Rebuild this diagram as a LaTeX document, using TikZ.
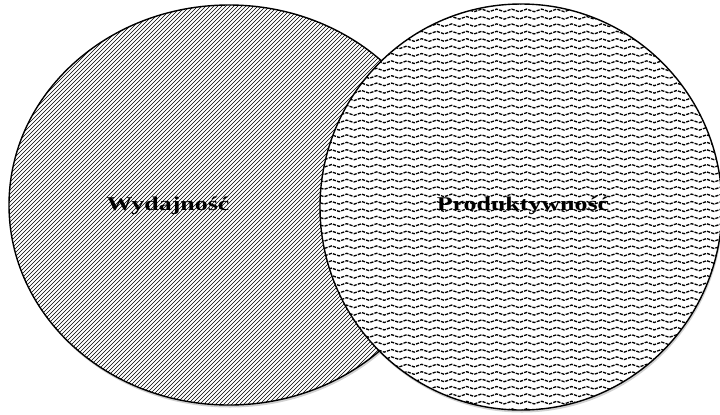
\documentclass[tikz,border=0pt]{standalone}
\usepackage{fontspec}
\usepackage{graphicx}
\newfontfamily\labelfont{Liberation Serif}
\usetikzlibrary{decorations.pathmorphing}
\tikzset{
  vennline/.style={draw=black, line width=1.4bp},
  whitefill/.style={fill=white},
  hatchline/.style={draw=black, line width=0.45bp},
  waveline/.style={draw=black, line width=1.3bp, dash pattern=on 3.2bp off 1.2bp,
    decorate, decoration={snake, segment length=15bp, amplitude=1.3bp}},
  dropshadow/.style={fill=black!18},
  lbl/.style={anchor=base, inner sep=0pt, text=black,
    font=\labelfont\bfseries\fontsize{19.5bp}{22bp}\selectfont}
}
\begin{document}
\begin{tikzpicture}[x=1bp,y=-1bp]
\useasboundingbox (0,0) rectangle (720,414);
% shadows
\path[dropshadow] (230,207.5) ellipse [x radius=220bp, y radius=200bp];
\path[dropshadow] (522,209.5) ellipse [x radius=201bp, y radius=203bp];
% left set
\path[whitefill] (229,205) ellipse [x radius=220bp, y radius=200bp];
\begin{scope}
  \clip (229,205) ellipse [x radius=220bp, y radius=200bp];
  \foreach \c in {0,4,...,880} \draw[hatchline] (\c,0) -- (\c-420,420);
\end{scope}
\path[vennline] (229,205) ellipse [x radius=220bp, y radius=200bp];
% right set
\path[whitefill] (521,207) ellipse [x radius=201bp, y radius=203bp];
\begin{scope}
  \clip (521,207) ellipse [x radius=201bp, y radius=203bp];
  \foreach \r in {0,...,56} \draw[waveline] (312,{3+\r*7.4}) -- (732,{3+\r*7.4});
\end{scope}
\path[vennline] (521,207) ellipse [x radius=201bp, y radius=203bp];
% labels
\node[lbl] (w) at (168,210) {\scalebox{1.33}[1]{Wydajność}};
\node[lbl] (p) at (523,210) {\scalebox{1.33}[1]{Produktywność}};
\end{tikzpicture}
\end{document}
